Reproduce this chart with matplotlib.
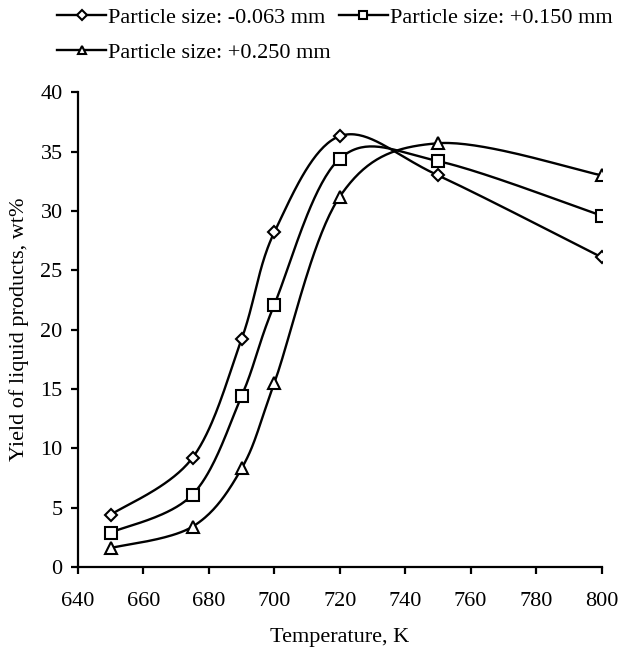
import numpy as np
import matplotlib.pyplot as plt

plt.rcParams['font.family'] = ['Liberation Serif', 'DejaVu Serif']

temperature = [650, 675, 690, 700, 720, 750, 800]
yield_063 = [4.4, 9.2, 19.2, 28.2, 36.3, 33.0, 26.1]
yield_150 = [2.9, 6.1, 14.4, 22.1, 34.4, 34.2, 29.6]
yield_250 = [1.6, 3.4, 8.3, 15.5, 31.2, 35.7, 33.0]
labels = ['Particle size: -0.063 mm', 'Particle size: +0.150 mm',
          'Particle size: +0.250 mm']

XLIM = (640, 800)
YLIM = (0, 40)


def smooth_curve(x, y, n=40):
    """Excel-like smoothed line: cubic Bezier between points, computed in axes-normalised space."""
    sx = (XLIM[1] - XLIM[0]) * 1.1
    sy = (YLIM[1] - YLIM[0])
    p = np.column_stack([(np.asarray(x) - XLIM[0]) / sx, np.asarray(y) / sy])
    out = []
    t = np.linspace(0, 1, n)[:, None]
    for i in range(len(p) - 1):
        p0 = p[i - 1] if i > 0 else p[i]
        p3 = p[i + 2] if i + 2 < len(p) else p[i + 1]
        c1 = p[i] + (p[i + 1] - p0) / 6
        c2 = p[i + 1] - (p3 - p[i]) / 6
        seg = ((1 - t) ** 3 * p[i] + 3 * (1 - t) ** 2 * t * c1
               + 3 * (1 - t) * t ** 2 * c2 + t ** 3 * p[i + 1])
        out.append(seg)
    out = np.vstack(out)
    return out[:, 0] * sx + XLIM[0], out[:, 1] * sy


fig = plt.figure(figsize=(6.21, 6.54), dpi=100)
ax = fig.add_axes([0.1256, 0.133, 0.843, 0.726])

series = [(yield_063, 'D', 6), (yield_150, 's', 8), (yield_250, '^', 8)]
handles = []
for (vals, mk, ms), lab in zip(series, labels):
    cx, cy = smooth_curve(temperature, vals)
    ax.plot(cx, cy, color='black', lw=1.7, zorder=2)
    ax.plot(temperature, vals, linestyle='none', marker=mk, ms=ms,
            mfc='white', mec='black', mew=1.5, zorder=3)
    h, = ax.plot([], [], color='black', lw=1.7, marker=mk, ms=ms,
                 mfc='white', mec='black', mew=1.5, label=lab)
    handles.append(h)

ax.set_xlim(*XLIM)
ax.set_ylim(*YLIM)
ax.set_xticks(np.arange(640, 801, 20))
ax.set_yticks(np.arange(0, 41, 5))
ax.spines['top'].set_visible(False)
ax.spines['right'].set_visible(False)
for s in ['left', 'bottom']:
    ax.spines[s].set_linewidth(1.6)
ax.tick_params(direction='out', length=5, width=1.6, labelsize=16)
ax.tick_params(axis='x', pad=13)
ax.tick_params(axis='y', pad=6)
ax.set_xlabel('Temperature, K', fontsize=16, labelpad=12)
ax.set_ylabel('Yield of liquid products, wt%', fontsize=16, labelpad=8)

# column-wise fill, so order gives rows: [0, 1] / [2]
fig.legend(handles=[handles[0], handles[2], handles[1]], loc='upper left',
           bbox_to_anchor=(0.092, 0.989), ncol=2, frameon=False, fontsize=16,
           handlelength=2.2, handletextpad=0.1, columnspacing=0.35,
           labelspacing=0.65, borderaxespad=0, borderpad=0, markerscale=0.8)

fig.savefig('out.png', dpi=100)
